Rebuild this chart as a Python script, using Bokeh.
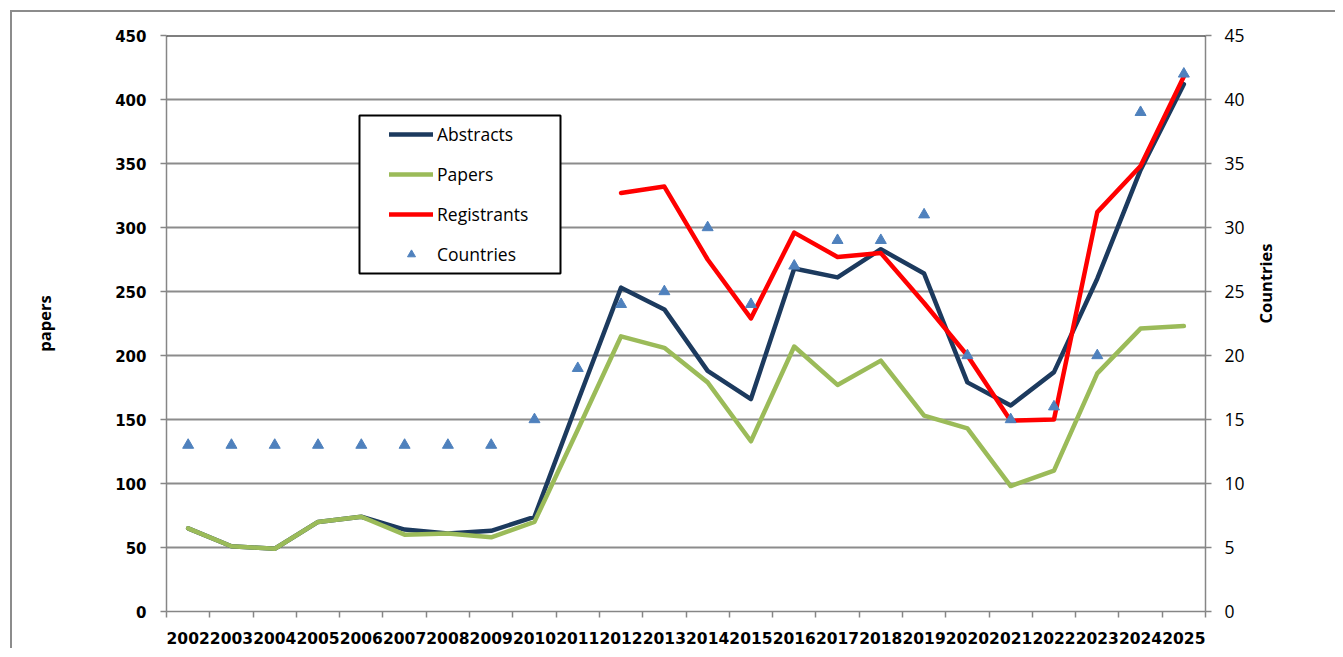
import math
from bokeh.plotting import figure
from bokeh.models import (Range1d, LinearAxis, FixedTicker, Span, Legend,
                          LegendItem, BoxAnnotation)
from bokeh.embed import file_html
from bokeh.resources import INLINE

# ---------------- data ----------------
years = ["2002", "2003", "2004", "2005", "2006", "2007", "2008", "2009",
         "2010", "2011", "2012", "2013", "2014", "2015", "2016", "2017",
         "2018", "2019", "2020", "2021", "2022", "2023", "2024", "2025"]
abstracts = [65, 51, 49, 70, 74, 64, 61, 63, 74, 164, 253, 236, 188, 166,
             268, 261, 283, 264, 179, 161, 187, 260, 345, 412]
papers = [65, 51, 49, 70, 74, 60, 61, 58, 70, 142, 215, 206, 179, 133,
          207, 177, 196, 153, 143, 98, 110, 186, 221, 223]
registrants = [None, None, None, None, None, None, None, None, None, None,
               327, 332, 275, 229, 296, 277, 280, 241, 200, 149, 150, 312,
               348, 418]
countries = [13, 13, 13, 13, 13, 13, 13, 13, 15, 19, 24, 25, 30, 24, 27, 29,
             29, 31, 20, 15, 16, 20, 39, 42]
left_ticks = [0, 50, 100, 150, 200, 250, 300, 350, 400, 450]
right_ticks = [0, 5, 10, 15, 20, 25, 30, 35, 40, 45]

# ---------------- styles ----------------
NAVY = "#1C3A5E"
GREEN = "#9BBB59"
RED = "#FF0000"
TRI = "#4F81BD"
GRID = "#8C8C8C"
AXIS = "#868686"

n = len(years)
xs = [i + 0.5 for i in range(n)]
regs = [float("nan") if v is None else v for v in registrants]

p = figure(width=1335, height=648, output_backend="svg", toolbar_location=None,
           x_range=Range1d(0, n), y_range=Range1d(left_ticks[0], left_ticks[-1]),
           min_border_left=166, min_border_right=130, min_border_top=35,
           min_border_bottom=37, outline_line_color=None,
           background_fill_color="white", border_fill_alpha=0)
p.styles = {"box-shadow": "inset 10px 10px 0 0 #ffffff, inset 12px 12px 0 0 #8c8c8c"}

p.extra_y_ranges = {"countries": Range1d(right_ticks[0], right_ticks[-1])}

# grid
p.xgrid.visible = False
p.ygrid.ticker = FixedTicker(ticks=left_ticks)
p.ygrid.grid_line_color = GRID
p.ygrid.grid_line_width = 2
p.add_layout(Span(location=left_ticks[-1], dimension="width",
                  line_color="black", line_width=2))

# x axis
xa = p.xaxis[0]
xa.ticker = FixedTicker(ticks=xs, minor_ticks=list(range(n + 1)))
xa.major_label_overrides = {x: y for x, y in zip(xs, years)}
xa.major_tick_out = 0
xa.major_tick_in = 0
xa.minor_tick_out = 6
xa.minor_tick_in = 0
xa.minor_tick_line_color = AXIS
xa.minor_tick_line_width = 1.5
xa.axis_line_color = AXIS
xa.axis_line_width = 1.5
xa.major_label_standoff = 14
xa.major_label_text_font = "DejaVu Sans"
xa.major_label_text_font_style = "bold"
xa.major_label_text_font_size = "15.5px"
xa.major_label_text_color = "black"

# left axis
ya = p.yaxis[0]
ya.ticker = FixedTicker(ticks=left_ticks)
ya.minor_tick_line_color = None
ya.major_tick_out = 6
ya.major_tick_in = 0
ya.major_tick_line_color = AXIS
ya.major_tick_line_width = 1.5
ya.axis_line_color = AXIS
ya.axis_line_width = 1.5
ya.major_label_standoff = 14
ya.major_label_text_font = "DejaVu Sans"
ya.major_label_text_font_style = "bold"
ya.major_label_text_font_size = "15px"
ya.major_label_text_color = "black"
ya.axis_label = "papers"
ya.axis_label_text_font = "Open Sans"
ya.axis_label_text_font_style = "bold"
ya.axis_label_text_font_size = "16.5px"
ya.axis_label_text_color = "black"
ya.axis_label_standoff = 56

# right axis
ra = LinearAxis(y_range_name="countries", ticker=FixedTicker(ticks=right_ticks))
ra.minor_tick_line_color = None
ra.major_tick_out = 6
ra.major_tick_in = 0
ra.major_tick_line_color = AXIS
ra.major_tick_line_width = 1.5
ra.axis_line_color = AXIS
ra.axis_line_width = 1.5
ra.major_label_standoff = 13
ra.major_label_text_font = "Open Sans"
ra.major_label_text_font_size = "17.5px"
ra.major_label_text_color = "black"
ra.axis_label = "Countries"
ra.axis_label_text_font = "Open Sans"
ra.axis_label_text_font_style = "bold"
ra.axis_label_text_font_size = "16.5px"
ra.axis_label_text_color = "black"
ra.axis_label_standoff = 18
ra.axis_label_orientation = math.pi / 2
p.add_layout(ra, "right")

# series
r_abs = p.line(xs, abstracts, line_color=NAVY, line_width=4.5,
               line_join="round", line_cap="round")
r_pap = p.line(xs, papers, line_color=GREEN, line_width=4.5,
               line_join="round", line_cap="round")
r_reg = p.line(xs, regs, line_color=RED, line_width=4.5,
               line_join="round", line_cap="round")
r_cty = p.scatter(xs, countries, marker="triangle", size=11,
                  fill_color=TRI, line_color=TRI, y_range_name="countries")

# legend frame
p.add_layout(BoxAnnotation(left=4.458, right=9.101, bottom=264.1, top=387.5,
                           fill_color="white", fill_alpha=1,
                           line_color="black", line_alpha=1, line_width=2))

legend = Legend(items=[LegendItem(label="Abstracts", renderers=[r_abs]),
                       LegendItem(label="Papers", renderers=[r_pap]),
                       LegendItem(label="Registrants", renderers=[r_reg]),
                       LegendItem(label="Countries", renderers=[r_cty])],
                location=(214, 336), padding=9, spacing=16, glyph_width=44,
                glyph_height=20, label_height=20, label_standoff=4, margin=0,
                border_line_alpha=0, background_fill_alpha=0,
                label_text_font="Open Sans", label_text_font_size="17.5px",
                label_text_color="black")
p.add_layout(legend)

open("out.html", "w").write(file_html(p, INLINE))
